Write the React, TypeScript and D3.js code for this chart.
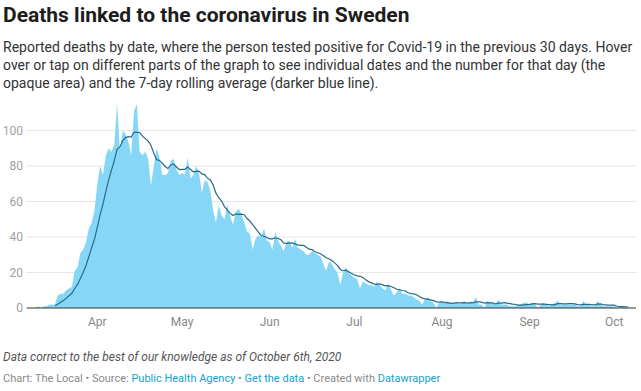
import React from "react";
import * as d3 from "d3";

// daily reported deaths, starting 2020-03-07
const startDate = "2020-03-07";
const avgStartDate = "2020-03-17"; // first full 7-day window after the first death

const march = [0, 0, 0, 0, 1, 0, 1, 1, 2, 2, 2, 7, 8, 8, 10, 11, 12, 21, 23, 31, 33, 37, 45, 48, 55];
const april = [70, 80, 75, 86, 90, 88, 92, 115, 89, 100, 98, 94, 86, 111, 115, 88, 86, 88, 84, 69, 80, 90, 85, 75, 75, 76, 83, 84, 78, 75];
const may = [76, 75, 85, 73, 75, 80, 76, 65, 72, 71, 66, 55, 48, 58, 52, 50, 58, 52, 47, 54, 56, 53, 48, 43, 42, 33, 39, 41, 40, 45, 38];
const june = [37, 33, 43, 38, 35, 32, 37, 38, 34, 39, 34, 33, 32, 30, 30, 32, 31, 30, 29, 25, 21, 26, 25, 22, 20, 13, 20, 23, 20, 18];
const july = [17, 16, 11, 15, 14, 13, 13, 12, 15, 13, 11, 10, 14, 10, 7, 9, 11, 8, 8, 7, 7, 6, 5, 4, 2, 5, 6, 4, 3, 0, 3];
const august = [3, 3, 4, 3, 2, 3, 2, 3, 4, 2, 4, 3, 6, 2, 2, 0, 4, 3, 3, 2, 5, 2, 2, 2, 1, 1, 1, 2, 2, 3, 3];
const september = [2, 3, 2, 0, 2, 3, 2, 1, 2, 3, 4, 2, 2, 2, 2, 2, 2, 1, 1, 4, 2, 2, 1, 1, 4, 2, 1, 1, 1, 1];
const october = [1, 0, 1, 1, 0, 0];

const yTicks = [0, 20, 40, 60, 80, 100];

const title = "Deaths linked to the coronavirus in Sweden";
const subtitleLines = [
  "Reported deaths by date, where the person tested positive for Covid-19 in the previous 30 days. Hover",
  "over or tap on different parts of the graph to see individual dates and the number for that day (the",
  "opaque area) and the 7-day rolling average (darker blue line).",
];
const note = "Data correct to the best of our knowledge as of October 6th, 2020";

const W = 641;
const H = 391;
const margin = { left: 26.7, right: 12.6, top: 100, baseline: 308 };

const parse = d3.utcParse("%Y-%m-%d");

export default function App() {
  const start = parse(startDate) as Date;
  const avgStart = parse(avgStartDate) as Date;
  const daily = [...march, ...april, ...may, ...june, ...july, ...august, ...september, ...october];
  const data = daily.map((value, i) => ({ date: d3.utcDay.offset(start, i), value }));
  const rolling = data.map((d, i) => ({
    date: d.date,
    avg: d.date >= avgStart ? (d3.mean(daily.slice(i - 6, i + 1)) as number) : null,
  }));

  const end = data[data.length - 1].date;
  const x = d3.scaleUtc().domain([start, end]).range([margin.left, W - margin.right]);
  const y = d3.scaleLinear().domain([0, 100]).range([margin.baseline, 130.5]);

  const area = d3
    .area<{ date: Date; value: number }>()
    .x((d) => x(d.date))
    .y0(y(0))
    .y1((d) => y(d.value));

  const line = d3
    .line<{ date: Date; avg: number | null }>()
    .defined((d) => d.avg != null)
    .x((d) => x(d.date))
    .y((d) => y(d.avg as number));

  const months = x.ticks(d3.utcMonth.every(1) as d3.TimeInterval);
  const fmt = d3.utcFormat("%b");

  return (
    <div style={{ position: "absolute", left: 0, top: 0 }}>
      <svg width={W} height={H} style={{ display: "block", fontFamily: "Roboto, sans-serif" }}>
        <rect width={W} height={H} fill="#fff" />
        <text x={3} y={22} fontSize={21} fontWeight={700} fill="#1d1d1d">
          {title}
        </text>
        {subtitleLines.map((t, i) => (
          <text key={i} x={3} y={52 + i * 18} fontSize={14} fill="#333">
            {t}
          </text>
        ))}

        {yTicks.map((t) => (
          <g key={t}>
            {t > 0 && <line x1={margin.left} x2={637} y1={y(t)} y2={y(t)} stroke="#e6e6e6" strokeWidth={1} />}
            <text x={23} y={y(t)} dy="0.35em" textAnchor="end" fontSize={12} fill="#a0a0a0">
              {t}
            </text>
          </g>
        ))}

        <path d={area(data) as string} fill="#86d7f7" />
        <path d={line(rolling) as string} fill="none" stroke="#2a6a87" strokeWidth={1.2} />
        <line x1={margin.left} x2={636} y1={y(0)} y2={y(0)} stroke="#333" strokeWidth={1} />

        {months.map((m) => (
          <text key={+m} x={x(m)} y={326} textAnchor="middle" fontSize={12} fill="#888">
            {fmt(m)}
          </text>
        ))}

        <text x={3} y={361} fontSize={12} fontStyle="italic" fill="#555">
          {note}
        </text>
        <text x={3} y={382} fontSize={11} fill="#8a8a8a">
          <tspan>Chart: The Local • Source: </tspan>
          <tspan fill="#18a1cd">Public Health Agency</tspan>
          <tspan> • </tspan>
          <tspan fill="#18a1cd">Get the data</tspan>
          <tspan> • Created with </tspan>
          <tspan fill="#18a1cd">Datawrapper</tspan>
        </text>
      </svg>
    </div>
  );
}
